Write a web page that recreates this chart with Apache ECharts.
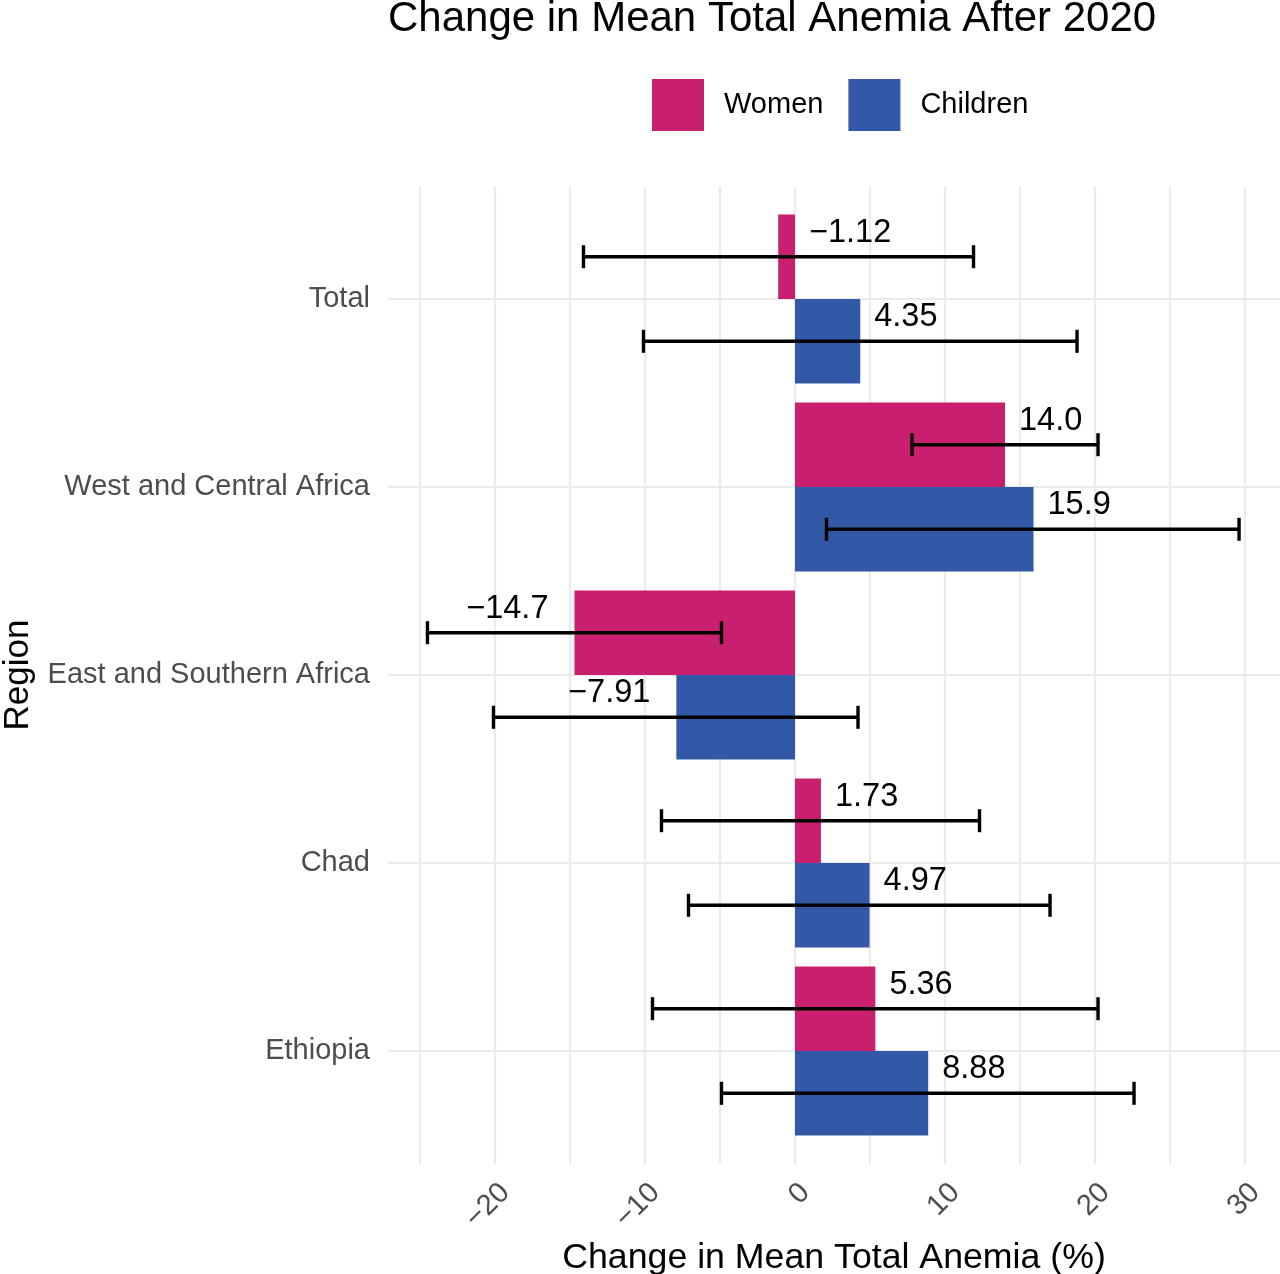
<!DOCTYPE html>
<html>
<head>
<meta charset="utf-8">
<title>Change in Mean Total Anemia After 2020</title>
<script src="https://cdn.jsdelivr.net/npm/echarts@6/dist/echarts.min.js"></script>
<style>
html, body { margin: 0; padding: 0; background: #fff; }
#chart { width: 1280px; height: 1274px; }
</style>
</head>
<body>
<div id="chart"></div>
<script>
// data
let regions = ['Total', 'West and Central Africa', 'East and Southern Africa', 'Chad', 'Ethiopia'];
let womenMean = [-1.12, 14.0, -14.7, 1.73, 5.36];
let womenLow = [-14.1, 7.8, -24.5, -8.9, -9.5];
let womenHigh = [11.9, 20.2, -4.9, 12.3, 20.2];
let childMean = [4.35, 15.9, -7.91, 4.97, 8.88];
let childLow = [-10.1, 2.1, -20.1, -7.1, -4.9];
let childHigh = [18.8, 29.6, 4.2, 17.0, 22.6];
let xTicks = [-20, -10, 0, 10, 20, 30];
let xGrid = [-25, -20, -15, -10, -5, 0, 5, 10, 15, 20, 25, 30];

let colWomen = '#C8206E';
let colChild = '#3259A8';
let xMin = -27.13, xMax = 32.33;

let fmt = (v) => v.toPrecision(3).replace('-', '\u2212');
let regionIdx = regions.map((r, i) => i);

let chart = echarts.init(document.getElementById('chart'));

// big negative bars get their label on the left of the bar
let barData = (vals) => vals.map(v => ({
    value: v,
    label: v < -5 ? { position: 'left', distance: 26 } : {}
}));

let errData = (low, high) => low.map((lo, i) => [i, lo, high[i]]);

// error bar, shifted up (-1) or down (+1) to sit on its dodged bar
let errRender = (shift) => (params, api) => {
    let idx = api.value(0);
    let band = api.size([0, 1])[1];
    let p1 = api.coord([api.value(1), idx]);
    let p2 = api.coord([api.value(2), idx]);
    let y = p1[1] + shift * band * 0.9 / 4;
    let cap = 11.5;
    let style = { stroke: '#000', lineWidth: 3.4 };
    return {
        type: 'group',
        children: [
            { type: 'line', shape: { x1: p1[0], y1: y, x2: p2[0], y2: y }, style: style },
            { type: 'line', shape: { x1: p1[0], y1: y - cap, x2: p1[0], y2: y + cap }, style: style },
            { type: 'line', shape: { x1: p2[0], y1: y - cap, x2: p2[0], y2: y + cap }, style: style }
        ]
    };
};

let barLabel = {
    show: true,
    position: 'right',
    distance: 14,
    offset: [0, -24],
    fontSize: 32.5,
    color: '#000',
    formatter: (p) => fmt(p.value)
};

let option = {
    animation: false,
    textStyle: { fontFamily: "'Liberation Sans', Arial, sans-serif" },
    title: {
        text: 'Change in Mean Total Anemia After 2020',
        left: 388,
        top: -2,
        padding: 0,
        textStyle: { fontSize: 42, fontWeight: 'normal', color: '#000' }
    },
    legend: {
        data: ['Women', 'Children'],
        left: 652,
        top: 79,
        padding: 0,
        icon: 'rect',
        itemWidth: 52,
        itemHeight: 52,
        itemGap: 25,
        textStyle: { fontSize: 29, color: '#000', padding: [0, 0, 0, 15] }
    },
    grid: [
        // panel with the grid lines (ggplot style expansion)
        { left: 388, right: 0, top: 186, bottom: 110, outerBoundsMode: 'none', containLabel: false },
        // bars: 5 bands of equal size inside the panel
        { left: 388, right: 0, top: 205, bottom: 129, outerBoundsMode: 'none', containLabel: false }
    ],
    xAxis: [
        {
            type: 'value',
            gridIndex: 0,
            min: xMin,
            max: xMax,
            axisLine: { show: false },
            axisTick: { show: false, customValues: xGrid },
            splitLine: { show: true, lineStyle: { color: '#EBEBEB', width: 2.2 } },
            axisLabel: {
                customValues: xTicks,
                rotate: 45,
                margin: 14,
                verticalAlign: 'top',
                fontSize: 29,
                color: '#4D4D4D',
                formatter: (v) => String(v).replace('-', '\u2212')
            },
            name: 'Change in Mean Total Anemia (%)',
            nameLocation: 'middle',
            nameGap: 72,
            nameTextStyle: { fontSize: 35.7, color: '#000' }
        },
        {
            type: 'value',
            gridIndex: 1,
            min: xMin,
            max: xMax,
            show: false
        }
    ],
    yAxis: [
        {
            type: 'value',
            gridIndex: 0,
            min: -0.6,
            max: 4.6,
            inverse: true,
            axisLine: { show: false },
            axisTick: { show: false, customValues: regionIdx },
            splitLine: { show: true, lineStyle: { color: '#EBEBEB', width: 2.2 } },
            axisLabel: {
                customValues: regionIdx,
                margin: 18,
                fontSize: 29,
                color: '#4D4D4D',
                formatter: (v) => regions[Math.round(v)]
            },
            name: 'Region',
            nameLocation: 'middle',
            nameGap: 352,
            nameTextStyle: { fontSize: 35, color: '#000' }
        },
        {
            type: 'category',
            gridIndex: 1,
            data: regions,
            inverse: true,
            show: false
        }
    ],
    series: [
        {
            name: 'Women',
            type: 'bar',
            xAxisIndex: 1,
            yAxisIndex: 1,
            barGap: '0%',
            barCategoryGap: '10%',
            itemStyle: { color: colWomen },
            label: barLabel,
            data: barData(womenMean)
        },
        {
            name: 'Children',
            type: 'bar',
            xAxisIndex: 1,
            yAxisIndex: 1,
            barGap: '0%',
            barCategoryGap: '10%',
            itemStyle: { color: colChild },
            label: barLabel,
            data: barData(childMean)
        },
        {
            name: 'Women CI',
            type: 'custom',
            xAxisIndex: 1,
            yAxisIndex: 1,
            encode: { x: [1, 2], y: 0 },
            renderItem: errRender(-1),
            z: 5,
            data: errData(womenLow, womenHigh)
        },
        {
            name: 'Children CI',
            type: 'custom',
            xAxisIndex: 1,
            yAxisIndex: 1,
            encode: { x: [1, 2], y: 0 },
            renderItem: errRender(1),
            z: 5,
            data: errData(childLow, childHigh)
        }
    ]
};

chart.setOption(option);
</script>
</body>
</html>
